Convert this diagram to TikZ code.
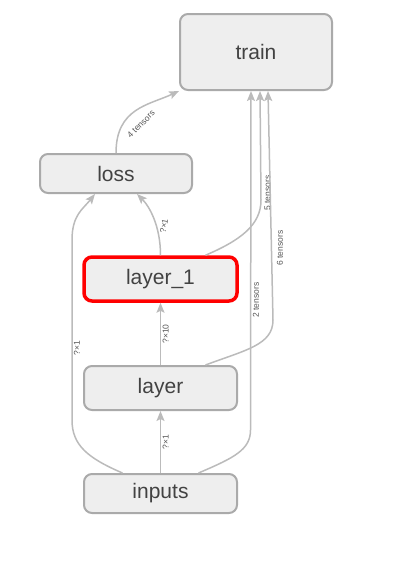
\documentclass[tikz,border=0pt]{standalone}
\usepackage{fontspec}
\setmainfont{Liberation Sans}
\usepackage{tikz}
\usetikzlibrary{arrows.meta,positioning,calc}
\definecolor{cFill}{HTML}{EEEEEE}
\definecolor{cBorder}{HTML}{AAAAAA}
\definecolor{cEdge}{HTML}{BBBBBB}
\definecolor{cSel}{HTML}{FF0000}
\definecolor{cInk}{HTML}{424242}
\definecolor{cNote}{HTML}{555555}
\tikzset{
  op/.style   = {draw=cBorder, fill=cFill, line width=2pt, rounded corners=8pt,
                 text=cInk, font=\fontsize{21}{24}\selectfont, inner sep=0pt,
                 minimum width=152pt, minimum height=39pt},
  sel/.style  = {op, draw=cSel, line width=3.5pt},
  flow/.style = {draw=cEdge, line width=1.5pt,
                 -{Stealth[length=10pt,width=8pt,inset=2pt]}},
  note/.style = {font=\fontsize{8.5}{9}\selectfont, text=cNote, inner sep=1.5pt},
}

\begin{document}
\begin{tikzpicture}[x=1pt, y=-1pt]
  \useasboundingbox (0,0) rectangle (400,573);
  % ---- ops ----
  \node[op, minimum height=76pt] (train) at (256,52) {train};
  \node[op] (loss) at (116,173.5) {loss};
  \node[sel, minimum width=153pt, minimum height=44pt] (lay1) at (160.5,279)
    {layer\_1};
  \node[op, minimum width=153pt, minimum height=44pt] (lay0) at (160.5,388)
    {layer};
  \node[op, minimum width=153pt] (inputs) at (160.5,493.5) {inputs};
  % ---- main column ----
  \draw[flow] (inputs) -- node[note, midway, anchor=north, rotate=90] {?×1}
    (lay0);
  \draw[flow] (lay0) -- node[note, midway, anchor=north, rotate=90] {?×10}
    (lay1);
  \draw[flow] (lay1.north) .. controls +(0,-30) and +(12,12) ..
    ([xshift=21pt]loss.south);
  \node[note, rotate=80] (l1) at (164,226) {?×1};
  % ---- skip into loss ----
  \draw[flow] ([xshift=-38pt]inputs.north) .. controls +(-35,-15) and +(0,25) ..
    (72,420) -- (72,240) .. controls +(0,-25) and +(-12,15) ..
    ([xshift=-21pt]loss.south);
  \node[note, rotate=90] (l2) at (77,348) {?×1};
  % ---- into train ----
  \draw[flow] (loss.north) .. controls +(0,-45) and +(-30,14) ..
    (train.south west);
  \node[note, rotate=45] (l3) at (141,124) {4 tensors};
  \draw[flow] ([xshift=38pt]inputs.north) .. controls +(35,-15) and +(0,20) ..
    (250.5,430) -- ([xshift=-5pt]train.south);
  \node[note, rotate=90] (l4) at (256,300) {2 tensors};
  \draw[flow] ([xshift=45pt]lay1.north) .. controls +(35,-15) and +(0,25) ..
    (261,200) -- ([xshift=4pt]train.south);
  \node[note, rotate=90] (l5) at (267.5,193) {5 tensors};
  \draw[flow] ([xshift=45pt]lay0.north) .. controls +(40,-15) and +(0,25) ..
    (273,320) -- ([xshift=12pt]train.south);
  \node[note, rotate=90] (l6) at (280,248) {6 tensors};
\end{tikzpicture}
\end{document}
